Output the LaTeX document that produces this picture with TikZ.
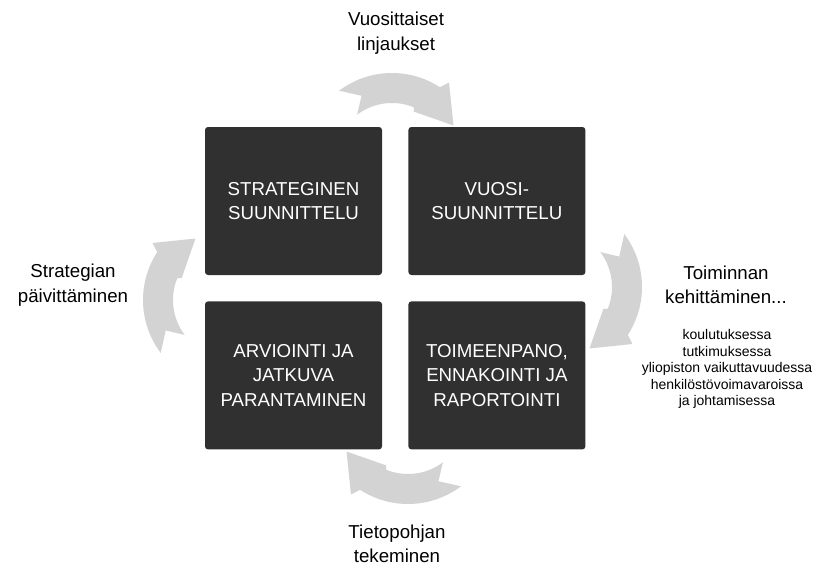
\documentclass[tikz,border=0pt]{standalone}
\usepackage[svgnames]{xcolor}
\usepackage{fontspec}
\setmainfont{Liberation Sans}
\usepackage{tikz}
\usetikzlibrary{
  positioning
}
\tikzset{
  every phase box/.style={fill=phase,rounded corners=3pt,text=white,
    minimum width=177pt,minimum height=148pt,align=center,
    font=\fontsize{18.7}{24.5}\selectfont},
  every phase label/.style={align=center,font=\fontsize{18.7}{24.5}\selectfont},
  every area list/.style={align=center,font=\fontsize{14}{16.5}\selectfont},
  every cycle arrow/.style={fill=bend},
}
\definecolor{phase}{HTML}{303030}
\colorlet{bend}{LightGray}

\begin{document}
\begin{tikzpicture}[x=1pt,y=1pt]
\useasboundingbox (0,0) rectangle (819,-570);
% the four phases
\node[every phase box] (plan) at (293.5,-201) {STRATEGINEN\\SUUNNITTELU};
\node[every phase box, right=26pt of plan] (year) {VUOSI-\\SUUNNITTELU};
\node[every phase box, below=26pt of plan] (eval) {ARVIOINTI JA\\JATKUVA\\PARANTAMINEN};
\node[every phase box, below=26pt of year] (exec) {TOIMEENPANO,\\ENNAKOINTI JA\\RAPORTOINTI};
% curved arrows between them
\foreach \cx/\cy/\rot in {392/161/0, 554/287/-90, 408/416/180, 231/300/90}
{
  \fill[every cycle arrow, shift={(\cx,-\cy)}, rotate=\rot]
    (127:88) arc[start angle=127, end angle=57, radius=88]
    -- (54:97) -- (30:71) -- (66:54) -- (68:58)
    arc[start angle=68, end angle=127, radius=58]
    -- (115:72) -- cycle;
}
% labels
\node[every phase label] (policy) at (396,-33) {Vuosittaiset\\linjaukset};
\node[every phase label] (update) at (73,-285) {Strategian\\päivittäminen};
\node[every phase label] (develop) at (726,-285) {Toiminnan\\kehittäminen...};
\node[every area list] (areas) at (727,-369)
  {koulutuksessa\\tutkimuksessa\\yliopiston vaikuttavuudessa\\henkilöstövoimavaroissa\\ja johtamisessa};
\node[every phase label] (data) at (397,-544) {Tietopohjan\\tekeminen};
\end{tikzpicture}
\end{document}
